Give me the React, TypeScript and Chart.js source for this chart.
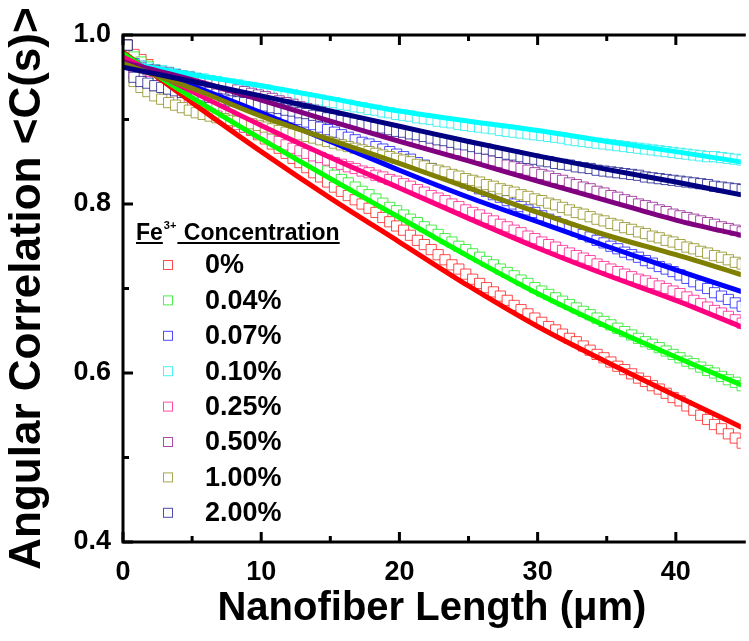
import React, { useEffect, useRef } from "react";
import { Chart, registerables } from "chart.js";

Chart.register(...registerables);

const FONT = "'Liberation Sans', Arial, Helvetica, sans-serif";

const SERIES_LABELS = ["0%", "0.04%", "0.07%", "0.10%", "0.25%", "0.50%", "1.00%", "2.00%"];
const LINE_COLORS = ["#ff0000", "#00ff00", "#0000ff", "#00ffff", "#ff0080", "#800080", "#808000", "#000080"];
const MARKER_COLORS = [
  "rgba(255,0,0,0.7)",
  "rgba(0,230,0,0.7)",
  "rgba(0,0,255,0.7)",
  "rgba(0,235,235,0.7)",
  "rgba(255,0,128,0.7)",
  "rgba(128,0,128,0.7)",
  "rgba(128,128,0,0.7)",
  "rgba(0,0,128,0.7)",
];

const X_MARK = [
  0.3, 0.8, 1.3, 1.8, 2.3, 2.8, 3.3, 3.8, 4.3, 4.8,
  5.3, 5.8, 6.3, 6.8, 7.3, 7.8, 8.3, 8.8, 9.3, 9.8,
  10.3, 10.8, 11.3, 11.8, 12.3, 12.8, 13.3, 13.8, 14.3, 14.8,
  15.3, 15.8, 16.3, 16.8, 17.3, 17.8, 18.3, 18.8, 19.3, 19.8,
  20.3, 20.8, 21.3, 21.8, 22.3, 22.8, 23.3, 23.8, 24.3, 24.8,
  25.3, 25.8, 26.3, 26.8, 27.3, 27.8, 28.3, 28.8, 29.3, 29.8,
  30.3, 30.8, 31.3, 31.8, 32.3, 32.8, 33.3, 33.8, 34.3, 34.8,
  35.3, 35.8, 36.3, 36.8, 37.3, 37.8, 38.3, 38.8, 39.3, 39.8,
  40.3, 40.8, 41.3, 41.8, 42.3, 42.8, 43.3, 43.8, 44.3, 44.8,
];

const M_0 = [
  0.988, 0.977, 0.971, 0.965, 0.959, 0.953, 0.947, 0.942, 0.936, 0.930,
  0.925, 0.920, 0.915, 0.911, 0.906, 0.901, 0.896, 0.891, 0.887, 0.882,
  0.877, 0.871, 0.866, 0.860, 0.854, 0.849, 0.843, 0.837, 0.832, 0.826,
  0.820, 0.815, 0.810, 0.805, 0.800, 0.795, 0.790, 0.784, 0.779, 0.774,
  0.769, 0.763, 0.757, 0.752, 0.746, 0.740, 0.734, 0.728, 0.723, 0.717,
  0.711, 0.706, 0.701, 0.696, 0.691, 0.686, 0.680, 0.675, 0.670, 0.665,
  0.660, 0.655, 0.651, 0.646, 0.641, 0.637, 0.632, 0.627, 0.622, 0.618,
  0.613, 0.608, 0.604, 0.599, 0.594, 0.590, 0.585, 0.581, 0.576, 0.571,
  0.567, 0.561, 0.556, 0.550, 0.545, 0.539, 0.534, 0.528, 0.523, 0.517,
];
const M_004 = [
  0.988, 0.974, 0.968, 0.963, 0.958, 0.953, 0.948, 0.943, 0.938, 0.933,
  0.928, 0.923, 0.919, 0.914, 0.910, 0.905, 0.900, 0.896, 0.891, 0.887,
  0.882, 0.877, 0.872, 0.868, 0.863, 0.858, 0.853, 0.848, 0.844, 0.839,
  0.834, 0.829, 0.825, 0.820, 0.815, 0.811, 0.806, 0.801, 0.796, 0.792,
  0.787, 0.782, 0.778, 0.773, 0.769, 0.764, 0.759, 0.755, 0.750, 0.746,
  0.741, 0.737, 0.732, 0.728, 0.723, 0.719, 0.715, 0.710, 0.706, 0.701,
  0.697, 0.693, 0.689, 0.685, 0.681, 0.677, 0.673, 0.669, 0.665, 0.661,
  0.657, 0.653, 0.649, 0.645, 0.641, 0.637, 0.634, 0.630, 0.626, 0.622,
  0.618, 0.614, 0.611, 0.607, 0.603, 0.600, 0.596, 0.592, 0.589, 0.585,
];
const M_007 = [
  0.988, 0.966, 0.963, 0.960, 0.957, 0.954, 0.952, 0.949, 0.947, 0.944,
  0.942, 0.939, 0.936, 0.934, 0.931, 0.928, 0.925, 0.922, 0.920, 0.917,
  0.914, 0.911, 0.908, 0.905, 0.902, 0.900, 0.897, 0.894, 0.891, 0.888,
  0.885, 0.882, 0.879, 0.876, 0.873, 0.871, 0.868, 0.865, 0.862, 0.859,
  0.856, 0.853, 0.849, 0.846, 0.842, 0.839, 0.836, 0.832, 0.829, 0.825,
  0.822, 0.818, 0.815, 0.811, 0.808, 0.804, 0.800, 0.797, 0.793, 0.790,
  0.786, 0.782, 0.779, 0.775, 0.772, 0.768, 0.764, 0.761, 0.757, 0.754,
  0.750, 0.747, 0.743, 0.740, 0.737, 0.733, 0.730, 0.726, 0.723, 0.720,
  0.716, 0.712, 0.708, 0.704, 0.700, 0.695, 0.691, 0.687, 0.683, 0.679,
];
const M_010 = [
  0.988, 0.965, 0.963, 0.961, 0.959, 0.958, 0.956, 0.954, 0.952, 0.951,
  0.949, 0.948, 0.946, 0.945, 0.943, 0.942, 0.941, 0.939, 0.938, 0.936,
  0.935, 0.933, 0.932, 0.930, 0.929, 0.927, 0.926, 0.924, 0.923, 0.921,
  0.920, 0.918, 0.917, 0.915, 0.914, 0.912, 0.911, 0.909, 0.908, 0.906,
  0.905, 0.904, 0.902, 0.901, 0.900, 0.898, 0.897, 0.896, 0.894, 0.893,
  0.892, 0.891, 0.890, 0.889, 0.887, 0.886, 0.885, 0.884, 0.883, 0.882,
  0.881, 0.880, 0.879, 0.878, 0.876, 0.875, 0.874, 0.873, 0.872, 0.871,
  0.870, 0.869, 0.868, 0.867, 0.866, 0.865, 0.864, 0.863, 0.862, 0.861,
  0.860, 0.859, 0.858, 0.857, 0.856, 0.856, 0.855, 0.854, 0.853, 0.852,
];
const M_025 = [
  0.988, 0.955, 0.950, 0.945, 0.940, 0.935, 0.931, 0.926, 0.922, 0.918,
  0.914, 0.910, 0.907, 0.904, 0.900, 0.897, 0.894, 0.891, 0.888, 0.884,
  0.881, 0.877, 0.874, 0.870, 0.866, 0.863, 0.860, 0.857, 0.855, 0.852,
  0.849, 0.847, 0.844, 0.842, 0.839, 0.837, 0.834, 0.832, 0.829, 0.827,
  0.824, 0.821, 0.817, 0.814, 0.810, 0.807, 0.804, 0.800, 0.797, 0.793,
  0.790, 0.787, 0.783, 0.780, 0.776, 0.773, 0.769, 0.766, 0.762, 0.759,
  0.755, 0.752, 0.749, 0.745, 0.742, 0.739, 0.736, 0.733, 0.729, 0.726,
  0.723, 0.720, 0.717, 0.714, 0.711, 0.709, 0.706, 0.703, 0.700, 0.697,
  0.694, 0.690, 0.686, 0.682, 0.678, 0.674, 0.671, 0.667, 0.663, 0.659,
];
const M_050 = [
  0.988, 0.962, 0.961, 0.959, 0.958, 0.956, 0.955, 0.953, 0.951, 0.950,
  0.948, 0.946, 0.944, 0.942, 0.940, 0.938, 0.935, 0.933, 0.931, 0.929,
  0.927, 0.925, 0.922, 0.920, 0.918, 0.915, 0.913, 0.911, 0.909, 0.906,
  0.904, 0.902, 0.899, 0.897, 0.895, 0.892, 0.890, 0.888, 0.886, 0.883,
  0.881, 0.879, 0.876, 0.874, 0.872, 0.869, 0.867, 0.865, 0.863, 0.860,
  0.858, 0.856, 0.853, 0.851, 0.849, 0.846, 0.844, 0.842, 0.840, 0.837,
  0.835, 0.833, 0.830, 0.828, 0.825, 0.823, 0.820, 0.818, 0.815, 0.813,
  0.810, 0.808, 0.805, 0.803, 0.800, 0.798, 0.796, 0.793, 0.791, 0.788,
  0.786, 0.784, 0.782, 0.780, 0.778, 0.776, 0.773, 0.771, 0.769, 0.767,
];
const M_100 = [
  0.988, 0.945, 0.938, 0.933, 0.928, 0.924, 0.920, 0.917, 0.914, 0.911,
  0.908, 0.906, 0.904, 0.902, 0.901, 0.899, 0.898, 0.896, 0.895, 0.893,
  0.891, 0.889, 0.887, 0.885, 0.883, 0.882, 0.880, 0.878, 0.876, 0.874,
  0.872, 0.870, 0.868, 0.866, 0.864, 0.862, 0.860, 0.858, 0.856, 0.854,
  0.852, 0.850, 0.847, 0.845, 0.842, 0.840, 0.838, 0.835, 0.833, 0.830,
  0.828, 0.826, 0.823, 0.821, 0.818, 0.816, 0.814, 0.811, 0.809, 0.806,
  0.804, 0.801, 0.799, 0.796, 0.793, 0.790, 0.788, 0.785, 0.782, 0.780,
  0.777, 0.775, 0.772, 0.770, 0.767, 0.765, 0.762, 0.760, 0.757, 0.755,
  0.752, 0.749, 0.747, 0.744, 0.742, 0.739, 0.737, 0.734, 0.731, 0.729,
];
const M_200 = [
  0.988, 0.950, 0.945, 0.943, 0.940, 0.938, 0.936, 0.934, 0.932, 0.931,
  0.929, 0.928, 0.926, 0.925, 0.924, 0.922, 0.921, 0.920, 0.919, 0.917,
  0.916, 0.914, 0.913, 0.911, 0.910, 0.908, 0.907, 0.905, 0.904, 0.902,
  0.901, 0.899, 0.898, 0.896, 0.894, 0.893, 0.891, 0.890, 0.888, 0.886,
  0.885, 0.883, 0.882, 0.880, 0.878, 0.876, 0.875, 0.873, 0.871, 0.870,
  0.868, 0.866, 0.865, 0.863, 0.861, 0.859, 0.858, 0.856, 0.854, 0.853,
  0.851, 0.850, 0.848, 0.847, 0.846, 0.844, 0.843, 0.842, 0.840, 0.839,
  0.838, 0.837, 0.836, 0.835, 0.834, 0.832, 0.831, 0.830, 0.829, 0.828,
  0.827, 0.826, 0.825, 0.824, 0.823, 0.821, 0.820, 0.819, 0.818, 0.817,
];

const X_FIT = [0, 5, 10, 15, 20, 25, 30, 35, 40, 45];
const F_0 = [0.980, 0.920, 0.862, 0.807, 0.755, 0.703, 0.655, 0.613, 0.573, 0.534];
const F_004 = [0.978, 0.926, 0.877, 0.830, 0.784, 0.738, 0.694, 0.655, 0.619, 0.584];
const F_007 = [0.972, 0.940, 0.908, 0.874, 0.840, 0.808, 0.779, 0.750, 0.722, 0.695];
const F_010 = [0.968, 0.953, 0.940, 0.925, 0.910, 0.898, 0.887, 0.874, 0.862, 0.849];
const F_025 = [0.974, 0.933, 0.893, 0.855, 0.819, 0.783, 0.748, 0.716, 0.686, 0.653];
const F_050 = [0.968, 0.947, 0.923, 0.898, 0.874, 0.851, 0.827, 0.804, 0.781, 0.762];
const F_100 = [0.966, 0.937, 0.904, 0.876, 0.848, 0.819, 0.790, 0.763, 0.740, 0.715];
const F_200 = [0.962, 0.945, 0.928, 0.910, 0.892, 0.874, 0.857, 0.841, 0.826, 0.810];

const MARKERS = [M_0, M_004, M_007, M_010, M_025, M_050, M_100, M_200];
const FITS = [F_0, F_004, F_007, F_010, F_025, F_050, F_100, F_200];

const X_MIN = 0;
const X_MAX = 44.7;
const Y_MIN = 0.4;
const Y_MAX = 1.0;
const X_MAJOR = [0, 10, 20, 30, 40];
const X_MINOR = [5, 15, 25, 35];
const Y_MAJOR = [0.4, 0.6, 0.8, 1.0];
const Y_MINOR = [0.5, 0.7, 0.9];

const X_TITLE = "Nanofiber Length (\u03bcm)";
const Y_TITLE = "Angular Correlation <C(s)>";
const LEGEND_TITLE_A = "Fe";
const LEGEND_TITLE_SUP = "3+";
const LEGEND_TITLE_B = " Concentration";

const framePlugin = {
  id: "frame",
  afterDraw(chart: any) {
    const { ctx, chartArea: a, scales } = chart;
    const x = scales.x;
    const y = scales.y;
    ctx.save();
    ctx.strokeStyle = "#000";
    ctx.lineWidth = 3;
    ctx.beginPath();
    ctx.moveTo(a.left - 1.5, a.top);
    ctx.lineTo(a.right + 5, a.top);
    ctx.moveTo(a.left, a.top - 1.5);
    ctx.lineTo(a.left, a.bottom + 1.5);
    ctx.moveTo(a.left - 1.5, a.bottom);
    ctx.lineTo(a.right + 5, a.bottom);
    ctx.stroke();
    ctx.beginPath();
    const xt = (vals: number[], len: number) => {
      vals.forEach((v) => {
        const p = x.getPixelForValue(v);
        ctx.moveTo(p, a.bottom);
        ctx.lineTo(p, a.bottom - len);
        ctx.moveTo(p, a.top);
        ctx.lineTo(p, a.top + len);
      });
    };
    const yt = (vals: number[], len: number) => {
      vals.forEach((v) => {
        const p = y.getPixelForValue(v);
        ctx.moveTo(a.left, p);
        ctx.lineTo(a.left + len, p);
      });
    };
    xt(X_MAJOR, 10);
    xt(X_MINOR, 6);
    yt(Y_MAJOR, 10);
    yt(Y_MINOR, 6);
    ctx.stroke();

    // legend
    const tx = 136;
    const tBase = 240;
    ctx.fillStyle = "#000";
    ctx.textBaseline = "alphabetic";
    ctx.textAlign = "left";
    ctx.font = `bold 23px ${FONT}`;
    ctx.fillText(LEGEND_TITLE_A, tx, tBase);
    const wA = ctx.measureText(LEGEND_TITLE_A).width;
    ctx.font = `bold 11px ${FONT}`;
    ctx.fillText(LEGEND_TITLE_SUP, tx + wA + 1, tBase - 11);
    const wS = ctx.measureText(LEGEND_TITLE_SUP).width;
    ctx.font = `bold 23px ${FONT}`;
    const bx = tx + wA + 1 + wS + 1;
    ctx.fillText(LEGEND_TITLE_B, bx, tBase);
    const wB = ctx.measureText(LEGEND_TITLE_B).width;
    ctx.lineWidth = 2;
    ctx.beginPath();
    ctx.moveTo(tx, tBase + 3);
    ctx.lineTo(tx + wA, tBase + 3);
    ctx.moveTo(bx, tBase + 3);
    ctx.lineTo(bx + wB, tBase + 3);
    ctx.stroke();

    ctx.font = `bold 27px ${FONT}`;
    ctx.textBaseline = "middle";
    SERIES_LABELS.forEach((lab, i) => {
      const yc = 265 + i * 35.4;
      ctx.fillStyle = "#fff";
      ctx.fillRect(163.5, yc - 4.5, 9, 9);
      ctx.strokeStyle = MARKER_COLORS[i];
      ctx.lineWidth = 1;
      ctx.strokeRect(163.5, yc - 4.5, 9, 9);
      ctx.fillStyle = "#000";
      ctx.fillText(lab, 205, yc + 1);
    });
    ctx.restore();
  },
};

export default function App() {
  const ref = useRef<HTMLCanvasElement | null>(null);
  useEffect(() => {
    document.body.style.margin = "0";
    const canvas = ref.current;
    if (!canvas) return;
    const datasets: any[] = [];
    FITS.forEach((f, i) => {
      datasets.push({
        type: "line",
        label: SERIES_LABELS[i] + " fit",
        data: X_FIT.map((xv, k) => ({ x: xv, y: f[k] })),
        borderColor: LINE_COLORS[i],
        borderWidth: 5,
        pointRadius: 0,
        cubicInterpolationMode: "monotone",
        fill: false,
        order: 8 - i,
      });
    });
    MARKERS.forEach((m, i) => {
      datasets.push({
        type: "line",
        label: SERIES_LABELS[i],
        data: X_MARK.map((xv, k) => ({ x: xv, y: m[k] })),
        showLine: false,
        pointStyle: "rect",
        pointRadius: 7.2,
        pointBorderWidth: 1,
        pointBorderColor: MARKER_COLORS[i],
        pointBackgroundColor: "#ffffff",
        order: 30 - i,
      });
    });
    const chart = new Chart(canvas, {
      type: "line",
      data: { datasets },
      options: {
        animation: false,
        responsive: false,
        devicePixelRatio: 1,
        layout: { padding: { top: 35, right: 0, left: 0, bottom: 0 } },
        plugins: { legend: { display: false }, tooltip: { enabled: false } },
        scales: {
          x: {
            type: "linear",
            min: X_MIN,
            max: X_MAX,
            afterFit: (s: any) => {
              s.height = 99;
            },
            grid: { display: false, drawTicks: false },
            border: { display: false },
            ticks: {
              stepSize: 10,
              includeBounds: false,
              padding: 14,
              color: "#000",
              maxRotation: 0,
              font: { family: FONT, size: 27, weight: "bold" },
              callback: (v: any) => (X_MAJOR.includes(Number(v)) ? String(v) : ""),
            },
            title: {
              display: true,
              text: X_TITLE,
              color: "#000",
              font: { family: FONT, size: 40, weight: "bold", lineHeight: 1.2 },
              padding: { top: 0, bottom: 8 },
            },
          },
          y: {
            type: "linear",
            min: Y_MIN,
            max: Y_MAX,
            afterFit: (s: any) => {
              s.width = 123;
            },
            grid: { display: false, drawTicks: false },
            border: { display: false },
            ticks: {
              stepSize: 0.2,
              padding: 12,
              color: "#000",
              font: { family: FONT, size: 27, weight: "bold" },
              callback: (v: any) => Number(v).toFixed(1),
            },
            title: {
              display: true,
              text: Y_TITLE,
              color: "#000",
              font: { family: FONT, size: 44, weight: "bold", lineHeight: 1.2 },
              padding: { top: 1, bottom: 0 },
            },
          },
        },
      },
      plugins: [framePlugin],
    });
    return () => chart.destroy();
  }, []);
  return (
    <div style={{ width: 749, height: 641 }}>
      <canvas ref={ref} width={749} height={641} style={{ display: "block" }} />
    </div>
  );
}
